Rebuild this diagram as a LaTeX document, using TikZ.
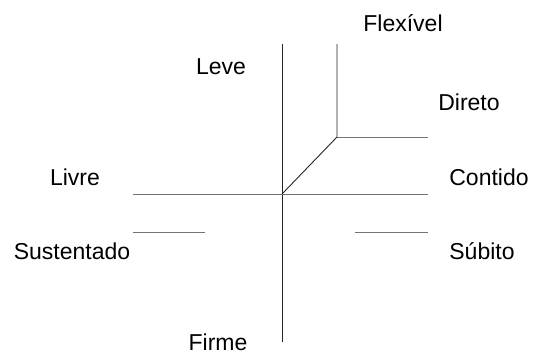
\documentclass[tikz,border=0pt]{standalone}
\usepackage{fontspec}
\setmainfont{Liberation Sans}
\begin{document}
\begin{tikzpicture}[x=1pt,y=-1pt,
  lbl/.style={font=\fontsize{23}{26}\selectfont, inner sep=0pt, anchor=center},
  vline/.style={draw=black!85, line width=0.9pt},
  hline/.style={draw=black!55, line width=0.9pt}]
\useasboundingbox (0,0) rectangle (538,354);
% coordinates
\coordinate (o) at (282,194);
\coordinate (vtop) at (282,44);
\coordinate (vbot) at (282,342);
\coordinate (hl) at (133,194);
\coordinate (hr) at (428,194);
\coordinate (k) at (337,137);
\coordinate (ktop) at (337,44);
\coordinate (kr) at (428,137);
\coordinate (sl1) at (133,232);
\coordinate (sl2) at (205,232);
\coordinate (sr1) at (355,232);
\coordinate (sr2) at (428,232);
% lines
\draw[vline] (vtop) -- (vbot);
\draw[hline] (hl) -- (hr);
\draw[vline] (o) -- (k) -- (ktop);
\draw[hline] (k) -- (kr);
\draw[hline] (sl1) -- (sl2);
\draw[hline] (sr1) -- (sr2);
% labels
\node[lbl] (flex) at (403,23) {Flexível};
\node[lbl] (leve) at (221,67) {Leve};
\node[lbl] (dir) at (469,102) {Direto};
\node[lbl] (livre) at (75,177) {Livre};
\node[lbl] (cont) at (489,177) {Contido};
\node[lbl] (sust) at (72,251) {Sustentado};
\node[lbl] (sub) at (482,251) {Súbito};
\node[lbl] (firme) at (218,342) {Firme};
\end{tikzpicture}
\end{document}
